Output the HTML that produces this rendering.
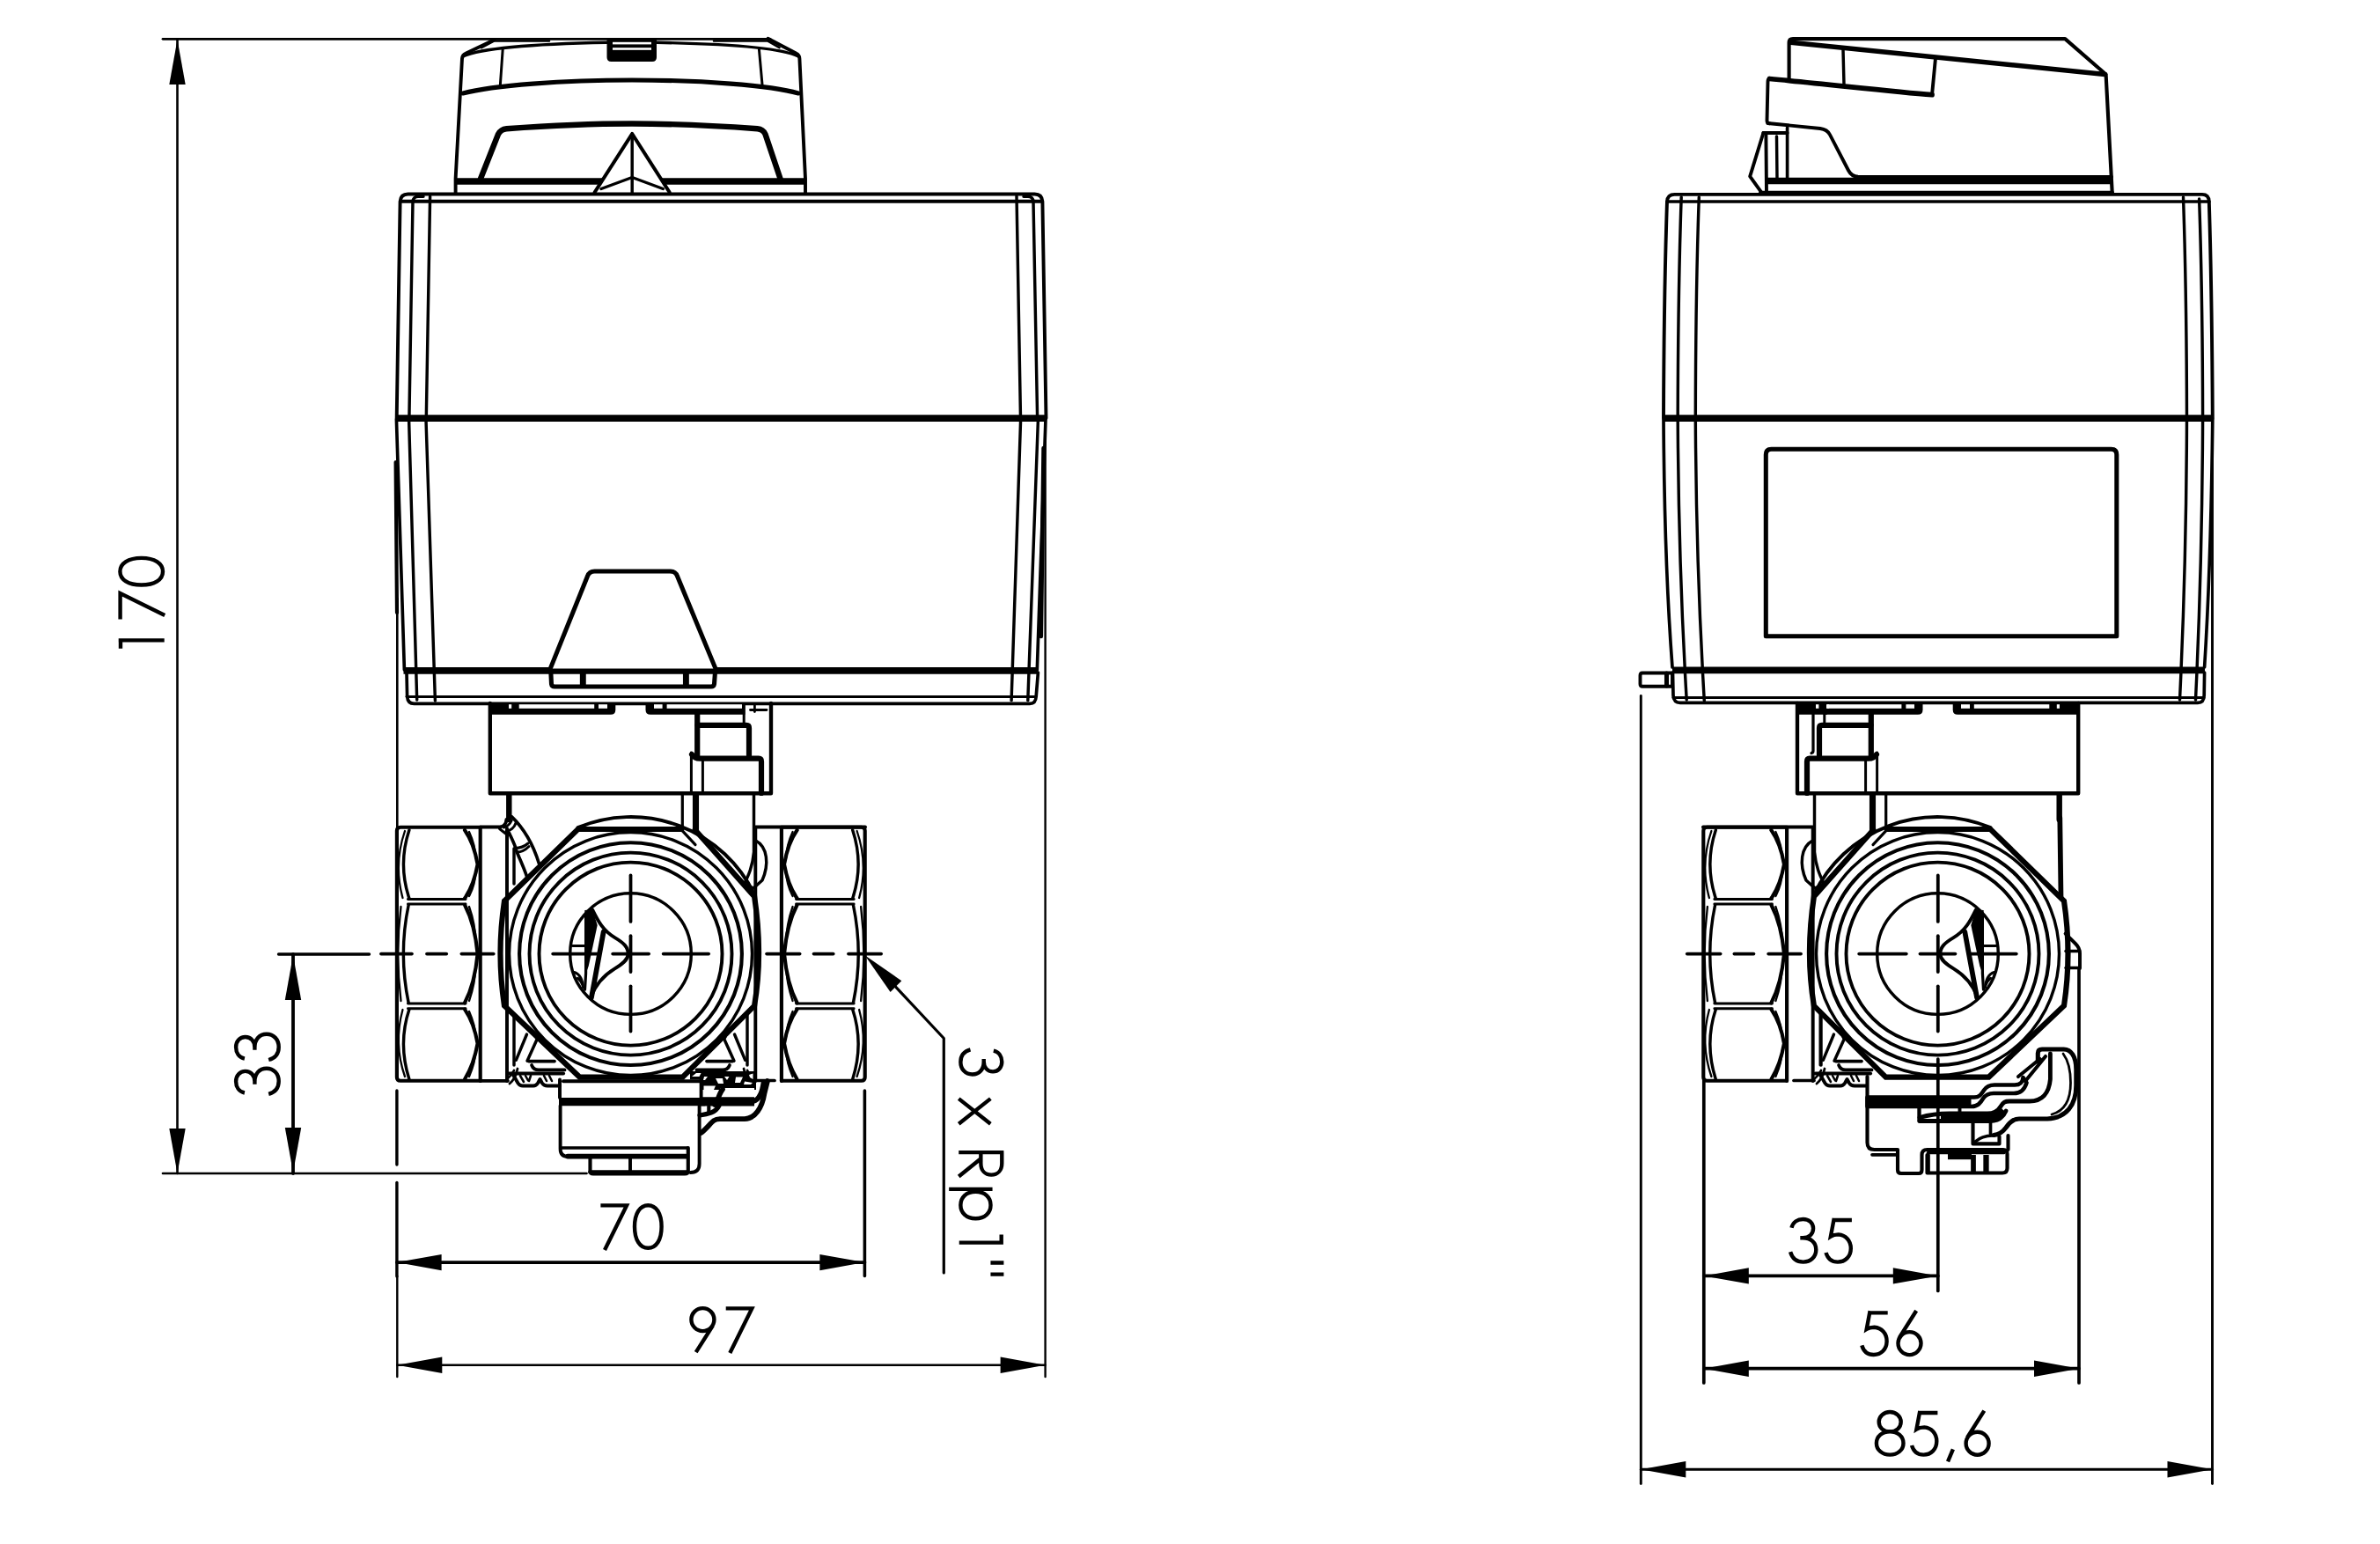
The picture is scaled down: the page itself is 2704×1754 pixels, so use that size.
<!DOCTYPE html>
<html><head><meta charset="utf-8"><style>
html,body{margin:0;padding:0;background:#fff;width:2704px;height:1754px;overflow:hidden}
svg{display:block}
</style></head><body>
<svg xmlns="http://www.w3.org/2000/svg" width="2704" height="1754" viewBox="0 0 2704 1754">
<rect width="2704" height="1754" fill="#fff"/>
<g fill="none" stroke="#000" stroke-linecap="round" stroke-linejoin="round">
<line x1="185" y1="44.3" x2="875" y2="44.3" stroke-width="2.8"/>
<line x1="201.5" y1="45" x2="201.5" y2="1333" stroke-width="2.6"/>
<path d="M201.5,45 L210.7,96.0 L192.3,96.0 Z" fill="#000" stroke="none"/>
<path d="M201.5,1333 L192.3,1282.0 L210.7,1282.0 Z" fill="#000" stroke="none"/>
<line x1="185" y1="1333" x2="666.5" y2="1333" stroke-width="2.7"/>
<g transform="translate(134.2,738) rotate(-90) scale(1.0)" fill="none" stroke="#000" stroke-width="4.40" stroke-linecap="butt" stroke-linejoin="miter"><path transform="translate(0,0)" d="M10.6,0.5 V52.5 M1.2,2.8 H10.6"/><path transform="translate(34.4,0)" d="M0,2.4 H29.6 L4.6,53"/><path transform="translate(71.3,0)" d="M17.5,2.2 C26.8,2.2 32.8,11.5 32.8,26.5 C32.8,41.5 26.8,50.8 17.5,50.8 C8.2,50.8 2.2,41.5 2.2,26.5 C2.2,11.5 8.2,2.2 17.5,2.2Z"/></g>
<line x1="333" y1="1084" x2="333" y2="1333" stroke-width="3.8"/>
<path d="M333,1085 L342.2,1136.0 L323.8,1136.0 Z" fill="#000" stroke="none"/>
<path d="M333,1332 L323.8,1281.0 L342.2,1281.0 Z" fill="#000" stroke="none"/>
<line x1="316.5" y1="1084" x2="419.5" y2="1084" stroke-width="3.4"/>
<g transform="translate(265.9,1245.3) rotate(-90) scale(1.0)" fill="none" stroke="#000" stroke-width="4.40" stroke-linecap="butt" stroke-linejoin="miter"><path transform="translate(0,0)" d="M3.8,12 C5.2,5.5 10.5,2.2 16.9,2.2 C23.6,2.2 28.4,6.6 28.4,12.8 C28.4,19.2 23.4,23.5 16.5,23.5 L13.6,23.5 M16.5,23.5 C25.6,23.5 31.6,28.6 31.6,37 C31.6,45 25.6,50.8 17,50.8 C9.8,50.8 4.4,46.6 2.4,39.3"/><path transform="translate(38.9,0)" d="M3.8,12 C5.2,5.5 10.5,2.2 16.9,2.2 C23.6,2.2 28.4,6.6 28.4,12.8 C28.4,19.2 23.4,23.5 16.5,23.5 L13.6,23.5 M16.5,23.5 C25.6,23.5 31.6,28.6 31.6,37 C31.6,45 25.6,50.8 17,50.8 C9.8,50.8 4.4,46.6 2.4,39.3"/></g>
<line x1="450.9" y1="1239" x2="450.9" y2="1323" stroke-width="3.4"/>
<line x1="450.9" y1="1343.5" x2="450.9" y2="1450" stroke-width="3.4"/>
<line x1="451.3" y1="1450" x2="451.3" y2="1564" stroke-width="2.4"/>
<line x1="451.3" y1="680" x2="451.3" y2="940" stroke-width="2.6"/>
<line x1="982.4" y1="1239" x2="982.4" y2="1449.4" stroke-width="3.6"/>
<line x1="450.9" y1="1434.1" x2="982.4" y2="1434.1" stroke-width="3.8"/>
<path d="M450.6,1434.1 L501.6,1424.9 L501.6,1443.3 Z" fill="#000" stroke="none"/>
<path d="M982.4,1434.1 L931.4,1443.3 L931.4,1424.9 Z" fill="#000" stroke="none"/>
<g transform="translate(682.4,1367) scale(1.0)" fill="none" stroke="#000" stroke-width="4.40" stroke-linecap="butt" stroke-linejoin="miter"><path transform="translate(0,0)" d="M0,2.4 H29.6 L4.6,53"/><path transform="translate(36.4,0)" d="M17.5,2.2 C26.8,2.2 32.8,11.5 32.8,26.5 C32.8,41.5 26.8,50.8 17.5,50.8 C8.2,50.8 2.2,41.5 2.2,26.5 C2.2,11.5 8.2,2.2 17.5,2.2Z"/></g>
<line x1="1187.6" y1="500" x2="1187.6" y2="1564" stroke-width="2.4"/>
<line x1="451.3" y1="1550.8" x2="1187.6" y2="1550.8" stroke-width="2.4"/>
<path d="M451.3,1550.8 L502.3,1541.6 L502.3,1560.0 Z" fill="#000" stroke="none"/>
<path d="M1187.6,1550.8 L1136.6,1560.0 L1136.6,1541.6 Z" fill="#000" stroke="none"/>
<g transform="translate(782.4,1484) scale(1.0)" fill="none" stroke="#000" stroke-width="4.40" stroke-linecap="butt" stroke-linejoin="miter"><path transform="translate(0,0)" d="M8.3,52.2 L27.5,21.8 M29,15.1 A13,13 0 1,0 3,15.1 A13,13 0 1,0 29,15.1 Z"/><path transform="translate(42.3,0)" d="M0,2.4 H29.6 L4.6,53"/></g>
<path d="M996,1098 L1072.3,1179.5 L1072.3,1445.9" stroke-width="3.2" fill="none" />
<path d="M982.6,1085.2 L1024.3,1114.2 L1011.6,1126.9 Z" fill="#000" stroke="none"/>
<g transform="translate(1140.4,1190) rotate(90) scale(0.965)" fill="none" stroke="#000" stroke-width="4.56" stroke-linecap="butt" stroke-linejoin="miter"><path transform="translate(0,0)" d="M3.8,12 C5.2,5.5 10.5,2.2 16.9,2.2 C23.6,2.2 28.4,6.6 28.4,12.8 C28.4,19.2 23.4,23.5 16.5,23.5 L13.6,23.5 M16.5,23.5 C25.6,23.5 31.6,28.6 31.6,37 C31.6,45 25.6,50.8 17,50.8 C9.8,50.8 4.4,46.6 2.4,39.3"/><path transform="translate(58.238341968911925,0)" d="M2,15.6 L31.6,53 M31.6,15.6 L2,53"/><path transform="translate(121.24352331606218,0)" d="M2.2,0 V53 M2.2,2.2 H15 C23.5,2.2 28.6,7.2 28.6,14.6 C28.6,22 23.5,27 15,27 H2.2 M9.5,27 L30.6,53"/><path transform="translate(164.559585492228,0)" d="M2.2,13.3 V64.5 M5.2,33.1 C5.2,22 12,15.4 21,15.4 C30,15.4 36.8,22 36.8,33.1 C36.8,44.2 30,50.8 21,50.8 C12,50.8 5.2,44.2 5.2,33.1Z"/><path transform="translate(219.06735751295338,0)" d="M10.6,0.5 V52.5 M1.2,2.8 H10.6"/><path transform="translate(251.08808290155443,0)" d="M2.3,0 V15.5 M15.9,0 V15.5"/></g>
<line x1="1864.3" y1="790.5" x2="1864.3" y2="1685.6" stroke-width="2.9"/>
<line x1="1935.8" y1="1227" x2="1935.8" y2="1571" stroke-width="3.7"/>
<line x1="2201.8" y1="1203" x2="2201.8" y2="1466.5" stroke-width="3.7"/>
<line x1="2362" y1="1100" x2="2362" y2="1571" stroke-width="3.7"/>
<line x1="2513.5" y1="475" x2="2513.5" y2="1685.6" stroke-width="2.9"/>
<line x1="1935.8" y1="1449.4" x2="2201.8" y2="1449.4" stroke-width="3.7"/>
<path d="M1935.8,1449.4 L1986.8,1440.2 L1986.8,1458.6 Z" fill="#000" stroke="none"/>
<path d="M2201.8,1449.4 L2150.8,1458.6 L2150.8,1440.2 Z" fill="#000" stroke="none"/>
<line x1="1935.8" y1="1554.7" x2="2362" y2="1554.7" stroke-width="3.7"/>
<path d="M1935.8,1554.7 L1986.8,1545.5 L1986.8,1563.9 Z" fill="#000" stroke="none"/>
<path d="M2362,1554.7 L2311.0,1563.9 L2311.0,1545.5 Z" fill="#000" stroke="none"/>
<line x1="1864.3" y1="1669.3" x2="2513.5" y2="1669.3" stroke-width="2.9"/>
<path d="M1864.3,1669.3 L1915.3,1660.1 L1915.3,1678.5 Z" fill="#000" stroke="none"/>
<path d="M2513.5,1669.3 L2462.5,1678.5 L2462.5,1660.1 Z" fill="#000" stroke="none"/>
<g transform="translate(2031.7,1382.8) scale(1.0)" fill="none" stroke="#000" stroke-width="4.40" stroke-linecap="butt" stroke-linejoin="miter"><path transform="translate(0,0)" d="M3.8,12 C5.2,5.5 10.5,2.2 16.9,2.2 C23.6,2.2 28.4,6.6 28.4,12.8 C28.4,19.2 23.4,23.5 16.5,23.5 L13.6,23.5 M16.5,23.5 C25.6,23.5 31.6,28.6 31.6,37 C31.6,45 25.6,50.8 17,50.8 C9.8,50.8 4.4,46.6 2.4,39.3"/><path transform="translate(40.2,0)" d="M10,3.2 H32 M11.9,1 L8,21.8 C10.5,20.2 13.5,19.6 16.8,19.6 C25,20.3 30.9,26.4 30.9,35.4 C30.9,44.6 24.5,50.8 16,50.8 C9.4,50.8 4.5,46.8 2.6,40.2"/></g>
<g transform="translate(2112.7,1488.2) scale(1.0)" fill="none" stroke="#000" stroke-width="4.40" stroke-linecap="butt" stroke-linejoin="miter"><path transform="translate(0,0)" d="M10,3.2 H32 M11.9,1 L8,21.8 C10.5,20.2 13.5,19.6 16.8,19.6 C25,20.3 30.9,26.4 30.9,35.4 C30.9,44.6 24.5,50.8 16,50.8 C9.4,50.8 4.5,46.8 2.6,40.2"/><path transform="translate(41.3,0)" d="M23.2,0.8 L4,31.2 M2.5,37.9 A13,13 0 1,0 28.5,37.9 A13,13 0 1,0 2.5,37.9 Z"/></g>
<g transform="translate(2129.7,1601.8) scale(1.0)" fill="none" stroke="#000" stroke-width="4.40" stroke-linecap="butt" stroke-linejoin="miter"><path transform="translate(0,0)" d="M17.5,2.2 C24.6,2.2 30,7.2 30,13.5 C30,20 24.6,24.6 17.5,24.6 C10.4,24.6 5,20 5,13.5 C5,7.2 10.4,2.2 17.5,2.2Z M17.5,24.4 C26.2,24.4 32.8,30 32.8,37.6 C32.8,45.3 26.2,50.8 17.5,50.8 C8.8,50.8 2.2,45.3 2.2,37.6 C2.2,30 8.8,24.4 17.5,24.4Z"/><path transform="translate(39.7,0)" d="M10,3.2 H32 M11.9,1 L8,21.8 C10.5,20.2 13.5,19.6 16.8,19.6 C25,20.3 30.9,26.4 30.9,35.4 C30.9,44.6 24.5,50.8 16,50.8 C9.4,50.8 4.5,46.8 2.6,40.2"/><path transform="translate(80.9,0)" d="M8.3,44.5 L2.4,58.6"/><path transform="translate(101.4,0)" d="M23.2,0.8 L4,31.2 M2.5,37.9 A13,13 0 1,0 28.5,37.9 A13,13 0 1,0 2.5,37.9 Z"/></g>
<path d="M517.6,219.5 L517.6,203 L525,66.5 Q525.4,62.4 529,60.8 L561.5,45.2 M872.5,43.8 L904.8,60.8 Q908.2,62.4 908.4,66.5 L915,203 L915,219.5" stroke-width="3.91" fill="none" />
<path d="M526,64 C545,55.5 600,50 690,48.3 M746,48.3 C836,50 890,55.5 907,64" stroke-width="3.45" fill="none" />
<path d="M547,54.2 L561,46.6 H624 M811,46.6 H872.5 L885.5,54.2" stroke-width="2.53" fill="none" />
<path d="M689.5,44 V65 Q689.5,70 694.5,70 H741 Q746,70 746,65 V44 Z" fill="#000" stroke="none"/>
<rect x="696" y="47.8" width="44" height="2.6" fill="#fff" stroke="none"/>
<rect x="696" y="54.2" width="44" height="2.6" fill="#fff" stroke="none"/>
<line x1="571.2" y1="55.9" x2="568.4" y2="96" stroke-width="2.99"/>
<line x1="862.4" y1="55.9" x2="866" y2="96" stroke-width="2.99"/>
<path d="M526,106 C560,97 640,91 718,91 C796,91 876,97 907,106" stroke-width="5.06" fill="none" />
<path d="M546,203 L566,152.5 Q569,146.8 575.5,146.2 C640,141.5 700,140.5 718,140.5 C736,140.5 796,141.5 860.5,146.2 Q867,146.8 869.5,152.5 L886.5,203" stroke-width="6.44" fill="none" />
<line x1="517" y1="206" x2="916" y2="206" stroke-width="7.36" stroke-linecap="butt"/>
<path d="M675.6,218.5 L718.2,152 L760.7,218.5" stroke-width="4.14" fill="#fff" />
<line x1="718.2" y1="153" x2="718.2" y2="219" stroke-width="3.45"/>
<path d="M683,214.5 L718.2,201.5 L753.3,214.5" stroke-width="3.45" fill="none" />
<path d="M450.7,475 L454.6,229 Q455.2,220.5 463.5,220.5 L1175.5,220.5 Q1183.8,220.5 1184.4,229 L1188.5,475" stroke-width="3.91" fill="none" />
<line x1="455" y1="228.8" x2="1184" y2="228.8" stroke-width="3.91"/>
<path d="M464.9,475 L469,229 Q469.6,223.5 475,223.3 H481" stroke-width="3.45" fill="none" />
<line x1="488.6" y1="223" x2="484.3" y2="475" stroke-width="3.45"/>
<line x1="1155" y1="222.8" x2="1159.5" y2="475" stroke-width="3.45"/>
<path d="M1178.6,475 L1174,229 Q1173.5,223.5 1168,223.3 H1163" stroke-width="3.45" fill="none" />
<line x1="450" y1="475.1" x2="1189" y2="475.1" stroke-width="7.82" stroke-linecap="butt"/>
<line x1="449.6" y1="525" x2="451" y2="696" stroke-width="4.14"/>
<line x1="1185.6" y1="509" x2="1182.8" y2="723" stroke-width="4.60"/>
<path d="M450.4,476 L459.4,761 M462,764 L462.6,791 Q463.2,799.4 470.5,799.4 L1170,799.4 Q1176.8,799.4 1177.2,791 L1179.4,764 M1178.3,761 L1188,476" stroke-width="3.68" fill="none" />
<line x1="458.5" y1="761.8" x2="1179.5" y2="761.8" stroke-width="7.82" stroke-linecap="butt"/>
<line x1="462" y1="791.4" x2="1177" y2="791.4" stroke-width="2.99"/>
<line x1="464.6" y1="477" x2="473.7" y2="795" stroke-width="3.45"/>
<line x1="484" y1="477" x2="494.4" y2="796" stroke-width="3.45"/>
<line x1="1159.6" y1="477" x2="1149.1" y2="795.6" stroke-width="3.45"/>
<line x1="1179.4" y1="477" x2="1167.8" y2="795.6" stroke-width="3.45"/>
<path d="M625.2,759.6 L667.5,654.5 Q669.5,649 675.5,649 L761.5,649 Q767.5,649 769.5,654.5 L813,759.6" stroke-width="5.06" fill="#fff" />
<path d="M625.8,763 L626.5,777 Q627,780 630,780 L808,780 Q811,780 811.5,777 L812.5,763" stroke-width="5.06" fill="none" />
<line x1="662.3" y1="765" x2="662.3" y2="778" stroke-width="6.90"/>
<line x1="779.4" y1="765" x2="779.4" y2="778" stroke-width="6.90"/>
<path d="M556.8,799 V901.3 H876 V799" stroke-width="4.37" fill="none" />
<path d="M555.2,798 H699.3 V806.3 Q699.3,811.8 693.8,811.8 H555.2 Z" fill="#000" stroke="none"/>
<path d="M733.5,798 H846.5 V811.8 H739 Q733.5,811.8 733.5,806.3 Z" fill="#000" stroke="none"/>
<rect x="578" y="800.2" width="3.2" height="4.6" fill="#fff" stroke="none"/>
<rect x="589.7" y="800.2" width="85.5" height="4.6" fill="#fff" stroke="none"/>
<rect x="680" y="800.2" width="10.0" height="4.6" fill="#fff" stroke="none"/>
<rect x="743" y="800.2" width="9.6" height="4.6" fill="#fff" stroke="none"/>
<rect x="757.6" y="800.2" width="85.4" height="4.6" fill="#fff" stroke="none"/>
<line x1="792.2" y1="811" x2="792.2" y2="859" stroke-width="6.21"/>
<path d="M792.6,823.8 H848 Q851,823.8 851,827 V858" stroke-width="6.21" fill="none" />
<line x1="845.2" y1="800" x2="845.2" y2="821" stroke-width="2.99"/>
<path d="M786,857 Q789,861.6 795,861.6 H862 Q865,861.6 865,865 V901" stroke-width="6.21" fill="none" />
<line x1="785.4" y1="855" x2="785.4" y2="901" stroke-width="2.99"/>
<line x1="798.4" y1="864" x2="798.4" y2="901" stroke-width="2.99"/>
<line x1="852.5" y1="806.5" x2="871" y2="806.5" stroke-width="2.76"/>
<line x1="857.4" y1="800" x2="857.4" y2="808.5" stroke-width="2.76"/>
<path d="M578.3,903 V931" stroke-width="6.44" fill="none" />
<line x1="775.3" y1="903" x2="775.3" y2="937.5" stroke-width="3.22"/>
<path d="M790.5,903 V944" stroke-width="7.13" fill="none" />
<path d="M856.5,903 V968 C855,985 850,995 845.7,1004" stroke-width="3.45" fill="none" />
<path d="M858.7,955 C872,962 874,982 866,1000 L856,1009 M845.7,1004 L856,1009" stroke-width="3.45" fill="none" />
<line x1="858.3" y1="941" x2="858.3" y2="1228" stroke-width="3.91"/>
<path d="M858.5,939.5 H983" stroke-width="3.91" fill="none" />
<g transform="translate(716.5,1083.6) scale(1,1)"><path d="M-60,-143.5 A156,156 0 0,1 140.5,-67.8" stroke-width="3.91"/><path d="M73.2,-140.8 L140.6,-65.1 Q150.5,0 140.6,59 L59,140 L-58,140 L-143.5,59 Q-152.5,0 -143.5,-60 L-59.9,-141.6 L57.7,-141.6" stroke-width="6.21" stroke-linejoin="miter"/><path d="M57.7,-141 L73.5,-124" stroke-width="3.22"/><circle r="138" stroke-width="3.45"/><circle r="126.4" stroke-width="4.14"/><circle r="115" stroke-width="3.91"/><circle r="104" stroke-width="3.91"/><circle r="68.8" stroke-width="3.45"/><path d="M-52.2,-49.5 L-43.2,-50 L-37.8,-32.5 L-47.8,14 L-52.2,26 Z" fill="#000" stroke="none"/><path d="M-50.9,-44 V22 L-52,40.5" stroke-width="3.22"/><path d="M-30.8,-25 L-44.6,49.9" stroke-width="5.75"/><path d="M-43.2,-49.7 C-37,-37 -31,-26 -18,-18.5 C-8,-12.5 -3,-8 -2.8,0 C-3,7 -10,12 -18.4,17 C-30,24 -40,35 -45.6,49.9" stroke-width="3.91"/><path d="M-66,-9.1 L-50.9,-9.1" stroke-width="2.99"/><path d="M-64.1,20.8 C-58,23 -54.5,28 -54,38.3 M-60.2,27.5 Q-56,31 -54.5,36" stroke-width="2.76"/></g>
<g transform="translate(1433.6,0) scale(-1,1)"><path d="M546,939.8 H455 Q450.9,939.8 450.9,943.8 V1223.8 Q450.9,1227.8 455,1227.8 H545.7" stroke-width="4.14"/><path d="M545.7,940 V1228" stroke-width="4.14"/><path d="M463.5,1021.4 H529" stroke-width="2.99"/><path d="M463.5,1027.1 H529" stroke-width="2.99"/><path d="M463.5,1140.1 H529" stroke-width="2.99"/><path d="M463.5,1145.8 H529" stroke-width="2.99"/><path d="M464.9,943 Q452,981.8 464.9,1020.5" stroke-width="3.45"/><path d="M460,944 Q447,981.8 457.5,1020" stroke-width="2.30"/><path d="M464.2,1028 Q452.5,1083.6 464.2,1139.3" stroke-width="3.45"/><path d="M455.5,1030 Q449,1083.6 455.5,1137" stroke-width="2.30"/><path d="M464.9,1146.7 Q452,1185.4 464.9,1226" stroke-width="3.45"/><path d="M457.5,1147 Q447,1185.4 460,1223" stroke-width="2.30"/><path d="M528,943 Q538.5,958 542.6,981.8 Q538.5,1005 528,1020.5" stroke-width="4.14"/><path d="M528,1028 Q539.5,1050 542.6,1083.6 Q539.5,1117 528,1139.3" stroke-width="4.14"/><path d="M528,1146.7 Q538.5,1162 542.6,1185.4 Q538.5,1209 528,1226" stroke-width="4.14"/><path d="M533,945 Q540,960 540.5,975 M533,1018 Q540,1005 540.5,990" stroke-width="2.30"/><path d="M533,1030 Q540,1050 540.5,1070 M533,1137 Q540,1117 540.5,1097" stroke-width="2.30"/><path d="M533,1149 Q540,1165 540.5,1178 M533,1223 Q540,1207 540.5,1193" stroke-width="2.30"/></g>
<g transform="translate(1433,0) scale(-1,1)"><path d="M600.8,1205.6 H630" stroke-width="3.68"/><path d="M641.6,1215.4 H612 Q606,1215.4 604,1210" stroke-width="3.68"/><path d="M584,1152 V1210" stroke-width="3.45"/><path d="M586.3,1204.3 L598.5,1175 M599,1205.2 L609.5,1182 Q611,1180 609,1178" stroke-width="3.45"/><path d="M577.5,1219.5 H640" stroke-width="4.14"/><path d="M583,1221 L588.5,1230.5 Q590.5,1233.5 594,1233.5 H606 Q609,1233.5 611,1230.5 L613.5,1226 L616,1230.5 Q618,1233.5 622,1233.5 H636" stroke-width="3.91"/><path d="M591,1222 L595,1229 M597,1222 L600,1227.5 M603,1222 L601,1228 M618,1222 L621,1228 M624,1222 L627,1228" stroke-width="2.53"/><path d="M576,1226 Q581,1222 584,1216 M579,1231 Q586,1225 588,1214" stroke-width="2.76"/></g>
<line x1="857" y1="1227.5" x2="880" y2="1227.5" stroke-width="3.68"/>
<path d="M581.2,927.7 C594,940 605,957 612.4,981" stroke-width="3.68" fill="none" />
<path d="M578.6,946.5 C582,954 585,960 586,964 M586.5,966 C590,975 595,985 598.6,996" stroke-width="3.68" fill="none" />
<path d="M585.2,963.5 C591,963.5 596,961.5 600,958 M587.5,968 C592,968 597,965.5 601,961.5" stroke-width="2.99" fill="none" />
<path d="M575.4,931 Q575,938.5 568,939.5 H546" stroke-width="3.91" fill="none" />
<path d="M572.5,940 C576,939 579.5,936 581.3,932 M575,944.3 C580,944 584.5,940 586,935" stroke-width="2.99" fill="none" />
<path d="M567.5,941.5 L574.5,947" stroke-width="2.99" fill="none" />
<line x1="576" y1="941" x2="576" y2="1228" stroke-width="3.91"/>
<line x1="584" y1="964" x2="584" y2="1004" stroke-width="3.45"/>
<g><path d="M546,939.8 H455 Q450.9,939.8 450.9,943.8 V1223.8 Q450.9,1227.8 455,1227.8 H545.7" stroke-width="4.14"/><path d="M545.7,940 V1228" stroke-width="4.14"/><path d="M463.5,1021.4 H529" stroke-width="2.99"/><path d="M463.5,1027.1 H529" stroke-width="2.99"/><path d="M463.5,1140.1 H529" stroke-width="2.99"/><path d="M463.5,1145.8 H529" stroke-width="2.99"/><path d="M464.9,943 Q452,981.8 464.9,1020.5" stroke-width="3.45"/><path d="M460,944 Q447,981.8 457.5,1020" stroke-width="2.30"/><path d="M464.2,1028 Q452.5,1083.6 464.2,1139.3" stroke-width="3.45"/><path d="M455.5,1030 Q449,1083.6 455.5,1137" stroke-width="2.30"/><path d="M464.9,1146.7 Q452,1185.4 464.9,1226" stroke-width="3.45"/><path d="M457.5,1147 Q447,1185.4 460,1223" stroke-width="2.30"/><path d="M528,943 Q538.5,958 542.6,981.8 Q538.5,1005 528,1020.5" stroke-width="4.14"/><path d="M528,1028 Q539.5,1050 542.6,1083.6 Q539.5,1117 528,1139.3" stroke-width="4.14"/><path d="M528,1146.7 Q538.5,1162 542.6,1185.4 Q538.5,1209 528,1226" stroke-width="4.14"/><path d="M533,945 Q540,960 540.5,975 M533,1018 Q540,1005 540.5,990" stroke-width="2.30"/><path d="M533,1030 Q540,1050 540.5,1070 M533,1137 Q540,1117 540.5,1097" stroke-width="2.30"/><path d="M533,1149 Q540,1165 540.5,1178 M533,1223 Q540,1207 540.5,1193" stroke-width="2.30"/></g>
<path d="M600.8,1205.6 H630" stroke-width="3.68"/><path d="M641.6,1215.4 H612 Q606,1215.4 604,1210" stroke-width="3.68"/><path d="M584,1152 V1210" stroke-width="3.45"/><path d="M586.3,1204.3 L598.5,1175 M599,1205.2 L609.5,1182 Q611,1180 609,1178" stroke-width="3.45"/><path d="M577.5,1219.5 H640" stroke-width="4.14"/><path d="M583,1221 L588.5,1230.5 Q590.5,1233.5 594,1233.5 H606 Q609,1233.5 611,1230.5 L613.5,1226 L616,1230.5 Q618,1233.5 622,1233.5 H636" stroke-width="3.91"/><path d="M591,1222 L595,1229 M597,1222 L600,1227.5 M603,1222 L601,1228 M618,1222 L621,1228 M624,1222 L627,1228" stroke-width="2.53"/><path d="M576,1226 Q581,1222 584,1216 M579,1231 Q586,1225 588,1214" stroke-width="2.76"/>
<line x1="546" y1="1227.8" x2="577" y2="1227.8" stroke-width="3.68"/>
<line x1="433" y1="1083.6" x2="467.9" y2="1083.6" stroke-width="3.79"/>
<line x1="485" y1="1083.6" x2="507.2" y2="1083.6" stroke-width="3.79"/>
<line x1="524.4" y1="1083.6" x2="560.7" y2="1083.6" stroke-width="3.79"/>
<line x1="628.2" y1="1083.6" x2="679.6" y2="1083.6" stroke-width="3.79"/>
<line x1="696.2" y1="1083.6" x2="737.1" y2="1083.6" stroke-width="3.79"/>
<line x1="753.7" y1="1083.6" x2="805.1" y2="1083.6" stroke-width="3.79"/>
<line x1="871.1" y1="1083.6" x2="908.6" y2="1083.6" stroke-width="3.79"/>
<line x1="924.6" y1="1083.6" x2="946.7" y2="1083.6" stroke-width="3.79"/>
<line x1="964" y1="1083.6" x2="1001.1" y2="1083.6" stroke-width="3.79"/>
<line x1="716.5" y1="994.4" x2="716.5" y2="1046.9" stroke-width="3.79"/>
<line x1="716.5" y1="1063.2" x2="716.5" y2="1104" stroke-width="3.79"/>
<line x1="716.5" y1="1120.3" x2="716.5" y2="1171.6" stroke-width="3.79"/>
<path d="M636,1226.4 V1247 M796.6,1226.4 V1247" stroke-width="3.91" fill="none" />
<line x1="640" y1="1228.2" x2="797" y2="1228.2" stroke-width="3.91"/>
<line x1="635" y1="1251.6" x2="801" y2="1251.6" stroke-width="9.20" stroke-linecap="butt"/>
<path d="M636.6,1256 V1305 Q636.6,1314 645.6,1314 H670.2" stroke-width="3.91" fill="none" />
<line x1="638" y1="1304" x2="781" y2="1304" stroke-width="3.45"/>
<line x1="645" y1="1313.6" x2="780" y2="1313.6" stroke-width="5.75"/>
<path d="M670.5,1314 V1330 Q670.5,1333.5 674,1333.5 H778 Q781.8,1333.5 781.8,1330 V1304" stroke-width="4.14" fill="none" />
<line x1="670.5" y1="1331.6" x2="781" y2="1331.6" stroke-width="4.83"/>
<line x1="716" y1="1315" x2="716" y2="1332" stroke-width="3.91"/>
<path d="M794.6,1256.6 V1322 Q794.6,1332 784.5,1332" stroke-width="3.91" fill="none" />
<path d="M784,1217 H859 V1238 H798 V1226.5 H784 Z" fill="#000" stroke="none"/>
<polygon points="786,1223 791,1219 796.5,1219 794.5,1223" fill="#fff" stroke="none"/>
<polygon points="799,1227 800,1223 804,1223 801,1227" fill="#fff" stroke="none"/>
<polygon points="813,1225 821,1225 822,1231 816,1231" fill="#fff" stroke="none"/>
<polygon points="823,1223 828.5,1223 826,1227" fill="#fff" stroke="none"/>
<polygon points="836,1223.5 844,1223.5 841,1230 835,1230" fill="#fff" stroke="none"/>
<polygon points="846,1228.5 855,1230 853,1232 845,1232" fill="#fff" stroke="none"/>
<polygon points="851,1221 855.5,1219.5 855.5,1226 852,1224" fill="#fff" stroke="none"/>
<polygon points="799.5,1233.5 813,1233.5 811,1238 799.5,1238" fill="#fff" stroke="none"/>
<polygon points="818,1236 857,1236 857,1238 818,1238" fill="#fff" stroke="none"/>
<line x1="795" y1="1251.3" x2="857" y2="1251.3" stroke-width="10.35" stroke-linecap="butt"/>
<path d="M812,1255 C816,1250 817,1242 821,1237.5" stroke-width="5.75" fill="none" />
<path d="M856,1251 C863,1249 866,1241 867.5,1230" stroke-width="5.75" fill="none" />
<path d="M796.5,1287 C803,1282 807,1276 811,1273 C813,1271.5 815,1271 818,1271 H846 C858,1271 866,1258 868.5,1242 L872,1228" stroke-width="5.75" fill="none" />
<path d="M795,1267 C801,1266 805,1265 808,1264 C812,1262.5 815,1260 817,1256" stroke-width="5.17" fill="none" />
<line x1="805.3" y1="1257" x2="805.3" y2="1264" stroke-width="4.14"/>
<path d="M2032.6,89.5 V48.5 Q2032.6,44.1 2037,44.1 H2346.2 L2392.6,84.5 L2399.7,218.6" stroke-width="4.14" fill="none" />
<path d="M2034.6,48.2 L2391.6,84.5" stroke-width="5.52" fill="none" />
<path d="M2010.4,89.5 C2070,95 2150,104 2195,107.7" stroke-width="5.75" fill="none" />
<path d="M2199,66 L2195,108" stroke-width="3.91" fill="none" />
<line x1="2094" y1="56" x2="2095" y2="96" stroke-width="3.45"/>
<path d="M2010.4,89.5 Q2008.5,90 2008.5,93 L2007.5,137 Q2007.5,140 2010.5,140.3" stroke-width="3.91" fill="none" />
<path d="M2008.4,140 L2068,146 Q2076,147 2079,153 L2100,193.5 Q2103.5,200.5 2111,200.8 L2399,201" stroke-width="3.91" fill="none" />
<path d="M2030.6,145 V204" stroke-width="3.68" fill="none" />
<path d="M2003.4,151 H2030.6" stroke-width="3.91" fill="none" />
<line x1="2018.5" y1="155" x2="2019" y2="203" stroke-width="3.45"/>
<line x1="2006.4" y1="153" x2="2007" y2="218" stroke-width="3.91"/>
<path d="M2003.4,151 L1988.2,200.4 L2001.3,218.6" stroke-width="3.91" fill="none" />
<line x1="2006" y1="205.5" x2="2399.7" y2="205.5" stroke-width="7.59" stroke-linecap="butt"/>
<line x1="2000" y1="218.8" x2="2400" y2="218.8" stroke-width="3.91"/>
<path d="M1890,475 Q1890.5,330 1894,229 Q1894.5,220.9 1902.5,220.9 L2502,220.9 Q2509.5,220.9 2509.8,229 Q2513,330 2513.8,475" stroke-width="3.91" fill="none" />
<line x1="1894" y1="228.9" x2="2510" y2="228.9" stroke-width="3.45"/>
<path d="M1910.2,224 Q1906.5,330 1906.2,475 Q1907,640 1916.2,795" stroke-width="3.45" fill="none" />
<path d="M1930.3,224 Q1926.5,330 1926.3,475 Q1927,640 1936.3,796" stroke-width="3.45" fill="none" />
<path d="M2480.5,224 Q2484.2,330 2484.5,475 Q2484,640 2476.5,795" stroke-width="3.45" fill="none" />
<path d="M2498.6,226 Q2502.3,330 2502.6,475 Q2502,640 2494.5,795" stroke-width="3.45" fill="none" />
<line x1="1889" y1="475.1" x2="2514" y2="475.1" stroke-width="7.82" stroke-linecap="butt"/>
<path d="M1890,476 Q1891,640 1900,758 M1900.5,764 L1901,790 Q1901.5,798.4 1909,798.4 H2497 Q2504,798.4 2504.2,790 L2504.6,764 M2504.6,758 Q2512,640 2513.8,476" stroke-width="3.68" fill="none" />
<line x1="1900" y1="761.4" x2="2505" y2="761.4" stroke-width="7.82" stroke-linecap="butt"/>
<line x1="1901" y1="792.4" x2="2504" y2="792.4" stroke-width="2.99"/>
<path d="M2006.3,722.8 V516.5 Q2006.3,510.3 2012.5,510.3 H2398.6 Q2404.8,510.3 2404.8,516.5 V722.8 Z" stroke-width="5.06" fill="none" />
<path d="M1866,764.5 H1900 V779.8 H1866 Q1863.5,779.8 1863.5,777 V767.5 Q1863.5,764.5 1866,764.5 Z" stroke-width="3.91" fill="none" />
<line x1="1893.5" y1="765" x2="1893.5" y2="779" stroke-width="5.06"/>
<g transform="translate(2918,0) scale(-1,1)"><path d="M556.8,799 V901.3 H876 V799" stroke-width="4.37" fill="none" /><path d="M555.2,798 H699.3 V806.3 Q699.3,811.8 693.8,811.8 H555.2 Z" fill="#000" stroke="none"/><path d="M733.5,798 H846.5 V811.8 H739 Q733.5,811.8 733.5,806.3 Z" fill="#000" stroke="none"/><rect x="578" y="800.2" width="3.2" height="4.6" fill="#fff" stroke="none"/><rect x="589.7" y="800.2" width="85.5" height="4.6" fill="#fff" stroke="none"/><rect x="680" y="800.2" width="10.0" height="4.6" fill="#fff" stroke="none"/><rect x="743" y="800.2" width="9.6" height="4.6" fill="#fff" stroke="none"/><rect x="757.6" y="800.2" width="85.4" height="4.6" fill="#fff" stroke="none"/><line x1="792.2" y1="811" x2="792.2" y2="859" stroke-width="6.21"/><path d="M792.6,823.8 H848 Q851,823.8 851,827 V858" stroke-width="6.21" fill="none" /><line x1="845.2" y1="800" x2="845.2" y2="821" stroke-width="2.99"/><path d="M786,857 Q789,861.6 795,861.6 H862 Q865,861.6 865,865 V901" stroke-width="6.21" fill="none" /><line x1="785.4" y1="855" x2="785.4" y2="901" stroke-width="2.99"/><line x1="798.4" y1="864" x2="798.4" y2="901" stroke-width="2.99"/><line x1="852.5" y1="806.5" x2="871" y2="806.5" stroke-width="2.76"/><line x1="857.4" y1="800" x2="857.4" y2="808.5" stroke-width="2.76"/><path d="M578.3,903 V931" stroke-width="6.44" fill="none" /><line x1="775.3" y1="903" x2="775.3" y2="937.5" stroke-width="3.22"/><path d="M790.5,903 V944" stroke-width="7.13" fill="none" /><path d="M856.5,903 V968 C855,985 850,995 845.7,1004" stroke-width="3.45" fill="none" /><path d="M858.7,955 C872,962 874,982 866,1000 L856,1009 M845.7,1004 L856,1009" stroke-width="3.45" fill="none" /><line x1="858.3" y1="941" x2="858.3" y2="1228" stroke-width="3.91"/><path d="M858.5,939.5 H983" stroke-width="3.91" fill="none" /><g transform="translate(716.5,1083.6) scale(1,1)"><path d="M-60,-143.5 A156,156 0 0,1 140.5,-67.8" stroke-width="3.91"/><path d="M73.2,-140.8 L140.6,-65.1 Q150.5,0 140.6,59 L59,140 L-58,140 L-143.5,59 Q-152.5,0 -143.5,-60 L-59.9,-141.6 L57.7,-141.6" stroke-width="6.21" stroke-linejoin="miter"/><path d="M57.7,-141 L73.5,-124" stroke-width="3.22"/><circle r="138" stroke-width="3.45"/><circle r="126.4" stroke-width="4.14"/><circle r="115" stroke-width="3.91"/><circle r="104" stroke-width="3.91"/><circle r="68.8" stroke-width="3.45"/><path d="M-52.2,-49.5 L-43.2,-50 L-37.8,-32.5 L-47.8,14 L-52.2,26 Z" fill="#000" stroke="none"/><path d="M-50.9,-44 V22 L-52,40.5" stroke-width="3.22"/><path d="M-30.8,-25 L-44.6,49.9" stroke-width="5.75"/><path d="M-43.2,-49.7 C-37,-37 -31,-26 -18,-18.5 C-8,-12.5 -3,-8 -2.8,0 C-3,7 -10,12 -18.4,17 C-30,24 -40,35 -45.6,49.9" stroke-width="3.91"/><path d="M-66,-9.1 L-50.9,-9.1" stroke-width="2.99"/><path d="M-64.1,20.8 C-58,23 -54.5,28 -54,38.3 M-60.2,27.5 Q-56,31 -54.5,36" stroke-width="2.76"/></g><g transform="translate(1433.6,0) scale(-1,1)"><path d="M546,939.8 H455 Q450.9,939.8 450.9,943.8 V1223.8 Q450.9,1227.8 455,1227.8 H545.7" stroke-width="4.14"/><path d="M545.7,940 V1228" stroke-width="4.14"/><path d="M463.5,1021.4 H529" stroke-width="2.99"/><path d="M463.5,1027.1 H529" stroke-width="2.99"/><path d="M463.5,1140.1 H529" stroke-width="2.99"/><path d="M463.5,1145.8 H529" stroke-width="2.99"/><path d="M464.9,943 Q452,981.8 464.9,1020.5" stroke-width="3.45"/><path d="M460,944 Q447,981.8 457.5,1020" stroke-width="2.30"/><path d="M464.2,1028 Q452.5,1083.6 464.2,1139.3" stroke-width="3.45"/><path d="M455.5,1030 Q449,1083.6 455.5,1137" stroke-width="2.30"/><path d="M464.9,1146.7 Q452,1185.4 464.9,1226" stroke-width="3.45"/><path d="M457.5,1147 Q447,1185.4 460,1223" stroke-width="2.30"/><path d="M528,943 Q538.5,958 542.6,981.8 Q538.5,1005 528,1020.5" stroke-width="4.14"/><path d="M528,1028 Q539.5,1050 542.6,1083.6 Q539.5,1117 528,1139.3" stroke-width="4.14"/><path d="M528,1146.7 Q538.5,1162 542.6,1185.4 Q538.5,1209 528,1226" stroke-width="4.14"/><path d="M533,945 Q540,960 540.5,975 M533,1018 Q540,1005 540.5,990" stroke-width="2.30"/><path d="M533,1030 Q540,1050 540.5,1070 M533,1137 Q540,1117 540.5,1097" stroke-width="2.30"/><path d="M533,1149 Q540,1165 540.5,1178 M533,1223 Q540,1207 540.5,1193" stroke-width="2.30"/></g><g transform="translate(1433,0) scale(-1,1)"><path d="M600.8,1205.6 H630" stroke-width="3.68"/><path d="M641.6,1215.4 H612 Q606,1215.4 604,1210" stroke-width="3.68"/><path d="M584,1152 V1210" stroke-width="3.45"/><path d="M586.3,1204.3 L598.5,1175 M599,1205.2 L609.5,1182 Q611,1180 609,1178" stroke-width="3.45"/><path d="M577.5,1219.5 H640" stroke-width="4.14"/><path d="M583,1221 L588.5,1230.5 Q590.5,1233.5 594,1233.5 H606 Q609,1233.5 611,1230.5 L613.5,1226 L616,1230.5 Q618,1233.5 622,1233.5 H636" stroke-width="3.91"/><path d="M591,1222 L595,1229 M597,1222 L600,1227.5 M603,1222 L601,1228 M618,1222 L621,1228 M624,1222 L627,1228" stroke-width="2.53"/><path d="M576,1226 Q581,1222 584,1216 M579,1231 Q586,1225 588,1214" stroke-width="2.76"/></g><line x1="857" y1="1227.5" x2="880" y2="1227.5" stroke-width="3.68"/></g>
<path d="M2040.2,798 H2076 V811.8 H2040.2 Z" fill="#000" stroke="none"/>
<rect x="2063" y="800.2" width="3.4" height="4.6" fill="#fff" stroke="none"/>
<rect x="2075" y="800.2" width="3" height="4.6" fill="#fff" stroke="none"/>
<path d="M2060,811.5 V853 Q2060,855 2058,855.5" stroke-width="3.22" fill="none" />
<line x1="2340.3" y1="929" x2="2341.5" y2="1019" stroke-width="5.75"/>
<path d="M2346.6,1060.6 L2358,1072 Q2363,1077 2363,1083 V1100" stroke-width="3.91" fill="none" />
<line x1="2347" y1="1080.5" x2="2362" y2="1080.5" stroke-width="3.45"/>
<line x1="2347" y1="1099.4" x2="2362" y2="1099.4" stroke-width="3.45"/>
<line x1="2068" y1="1148" x2="2068" y2="1210" stroke-width="2.99"/>
<line x1="1916.8" y1="1083.6" x2="1954.6" y2="1083.6" stroke-width="3.79"/>
<line x1="1970.4" y1="1083.6" x2="1992.4" y2="1083.6" stroke-width="3.79"/>
<line x1="2009.2" y1="1083.6" x2="2046" y2="1083.6" stroke-width="3.79"/>
<line x1="2112.2" y1="1083.6" x2="2165.8" y2="1083.6" stroke-width="3.79"/>
<line x1="2181.5" y1="1083.6" x2="2221.4" y2="1083.6" stroke-width="3.79"/>
<line x1="2238.2" y1="1083.6" x2="2290.8" y2="1083.6" stroke-width="3.79"/>
<line x1="2201.8" y1="994.4" x2="2201.8" y2="1046.9" stroke-width="3.79"/>
<line x1="2201.8" y1="1063.2" x2="2201.8" y2="1104" stroke-width="3.79"/>
<line x1="2201.8" y1="1120.3" x2="2201.8" y2="1171.6" stroke-width="3.79"/>
<path d="M2121.5,1223 V1298 Q2121.5,1306 2129.5,1306 H2156 V1329 Q2156,1333 2160,1333 H2180 Q2183.5,1333 2183.5,1329 V1312 Q2183.5,1306 2189.5,1306 H2276 Q2280.5,1306 2280.5,1311 V1327 Q2280.5,1332.5 2275,1332.5 H2189.5 V1312" stroke-width="4.14" fill="none" />
<line x1="2127" y1="1311.8" x2="2154" y2="1311.8" stroke-width="3.68"/>
<line x1="2190.5" y1="1309.5" x2="2277" y2="1309.5" stroke-width="3.45"/>
<line x1="2213" y1="1314" x2="2240" y2="1314" stroke-width="6.32" stroke-linecap="butt"/>
<line x1="2242" y1="1312" x2="2242" y2="1331" stroke-width="5.75" stroke-linecap="butt"/>
<line x1="2256.5" y1="1312" x2="2256.5" y2="1331" stroke-width="6.32" stroke-linecap="butt"/>
<line x1="2191" y1="1312" x2="2191" y2="1331" stroke-width="3.68"/>
<path d="M2281.5,1290 V1306" stroke-width="4.14" fill="none" />
<path d="M2121.5,1246.5 H2243 C2249,1246.5 2251,1243 2254,1238.5 C2257,1234 2260,1232.5 2266,1232.5 H2289 C2296,1232.5 2298,1229 2298.5,1224 L2302.5,1230 C2300,1238 2296,1242 2288,1242 H2265 C2259,1242 2256,1243.5 2253,1248 C2250,1253 2247,1257 2240,1257 H2121.5 Z" fill="#fff" stroke="#000" stroke-width="4.60"/>
<rect x="2121.5" y="1246.5" width="118" height="10.5" fill="#000" stroke="none"/>
<path d="M2181,1269.5 C2193,1266 2203,1265 2215,1265 H2258 C2266,1265 2270,1262 2273,1257 C2276,1252 2278,1251 2283,1251 H2306 C2320,1251 2328,1242 2329.4,1226 V1197" stroke-width="4.83" fill="none" />
<path d="M2181,1273.5 H2261 C2270,1273.5 2276,1269 2279,1262" stroke-width="4.83" fill="none" />
<path d="M2205,1265.5 H2258 C2266,1265.5 2270,1263 2273,1258 L2278,1263 C2275,1270 2270,1273.5 2261,1273.5 H2205 Z" fill="#000" stroke="none"/>
<path d="M2180.5,1257 V1273.5" stroke-width="4.37" fill="none" />
<line x1="2226.5" y1="1257.5" x2="2226.5" y2="1264.5" stroke-width="3.91"/>
<path d="M2241.5,1274 V1299.4 H2271.5 V1291" stroke-width="4.14" fill="none" />
<line x1="2261.5" y1="1274" x2="2261.5" y2="1288" stroke-width="3.68"/>
<path d="M2244,1297 C2250,1291.5 2256,1289.5 2266,1290" stroke-width="3.45" fill="none" />
<path d="M2315.3,1206 V1196.5 Q2315.3,1192 2320,1192 H2344.7 C2353,1192 2358.8,1200 2358.8,1215 V1233 C2358.8,1255 2348,1270 2326,1271 H2294 C2287,1271 2283,1275 2279,1281 C2275,1286.5 2271,1289 2265,1289.5" stroke-width="5.06" fill="none" />
<path d="M2344,1197 C2350,1205 2352.5,1215 2352.5,1230 C2352.5,1250 2346,1262 2331,1266" stroke-width="2.76" fill="none" />
<path d="M2293,1223 L2317.6,1203 M2302,1227 L2324,1200" stroke-width="4.14" fill="none" />
</g>
</svg>
</body></html>
